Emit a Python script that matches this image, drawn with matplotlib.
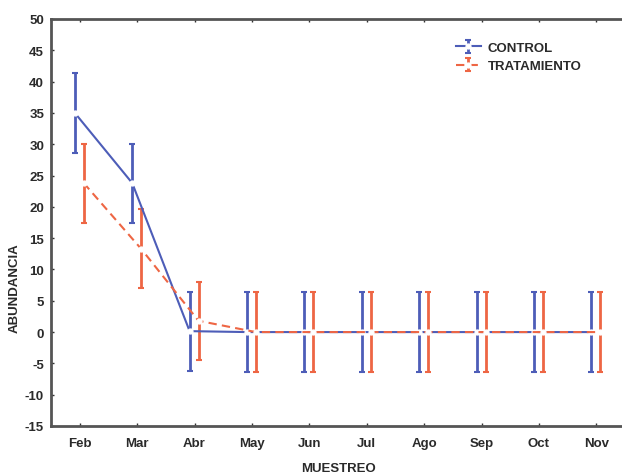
import matplotlib
matplotlib.use("Agg")
import matplotlib.pyplot as plt
import numpy as np

months = ["Feb", "Mar", "Abr", "May", "Jun", "Jul", "Ago", "Sep", "Oct", "Nov"]
control = [35.0, 23.8, 0.15, 0, 0, 0, 0, 0, 0, 0]
control_err = [6.4, 6.3, 6.3, 6.35, 6.35, 6.35, 6.35, 6.35, 6.35, 6.35]
trat = [23.8, 13.3, 1.8, 0, 0, 0, 0, 0, 0, 0]
trat_err = [6.3, 6.3, 6.25, 6.35, 6.35, 6.35, 6.35, 6.35, 6.35, 6.35]
yticks = list(range(-15, 55, 5))

plt.rcParams['font.family'] = ['Liberation Sans', 'DejaVu Sans']
blue = '#4d5db8'
red = '#ee6644'
txt = '#2a2a2a'
fs = 9.5
fw = 'bold'

fig = plt.figure(figsize=(6.22, 4.77), dpi=100)
ax = fig.add_axes([51/622, 1-427/477, (625-51)/622, (427-20)/477])

x = np.arange(len(months))
ax.errorbar(x - 0.085, control, yerr=control_err, color=blue, lw=1.5,
            ls='-', marker='o', ms=3.5, mfc='white', mec='white',
            ecolor=blue, elinewidth=2.0, capsize=2.5, capthick=1.5,
            label='CONTROL', zorder=3)
ax.errorbar(x + 0.07, trat, yerr=trat_err, color=red, lw=1.5,
            ls=(0, (4, 2.5)), marker='o', ms=3.5, mfc='white', mec='white',
            ecolor=red, elinewidth=2.0, capsize=2.5, capthick=1.5,
            label='TRATAMIENTO', zorder=3)

ax.set_xlim(-0.5, 9.5)
ax.set_ylim(-15, 50)
ax.set_xticks(x)
ax.set_xticklabels(months, fontweight=fw)
ax.set_yticks(yticks)
ax.set_yticklabels([str(v) for v in yticks], fontweight=fw)
ax.tick_params(direction='in', length=2, width=1, color='#333333',
               top=True, right=True, labelsize=fs, labelcolor=txt)
ax.tick_params(axis='x', pad=8)
ax.tick_params(axis='y', pad=5)
for s in ax.spines.values():
    s.set_linewidth(2)
    s.set_color('#555555')

ax.set_ylabel('ABUNDANCIA', fontsize=fs, color=txt, fontweight=fw)
ax.yaxis.set_label_coords(-0.052, 0.34)
ax.set_xlabel('MUESTREO', fontsize=fs, color=txt, fontweight=fw)
ax.xaxis.set_label_coords(0.5, -0.088)

leg = ax.legend(loc='upper left', bbox_to_anchor=(444/622, 1-31/477),
                bbox_transform=fig.transFigure, frameon=False,
                prop={'size': fs, 'weight': fw},
                handlelength=1.9, handletextpad=0.5, labelspacing=0.45)
for t in leg.get_texts():
    t.set_color(txt)

fig.savefig('out.png', dpi=100)
